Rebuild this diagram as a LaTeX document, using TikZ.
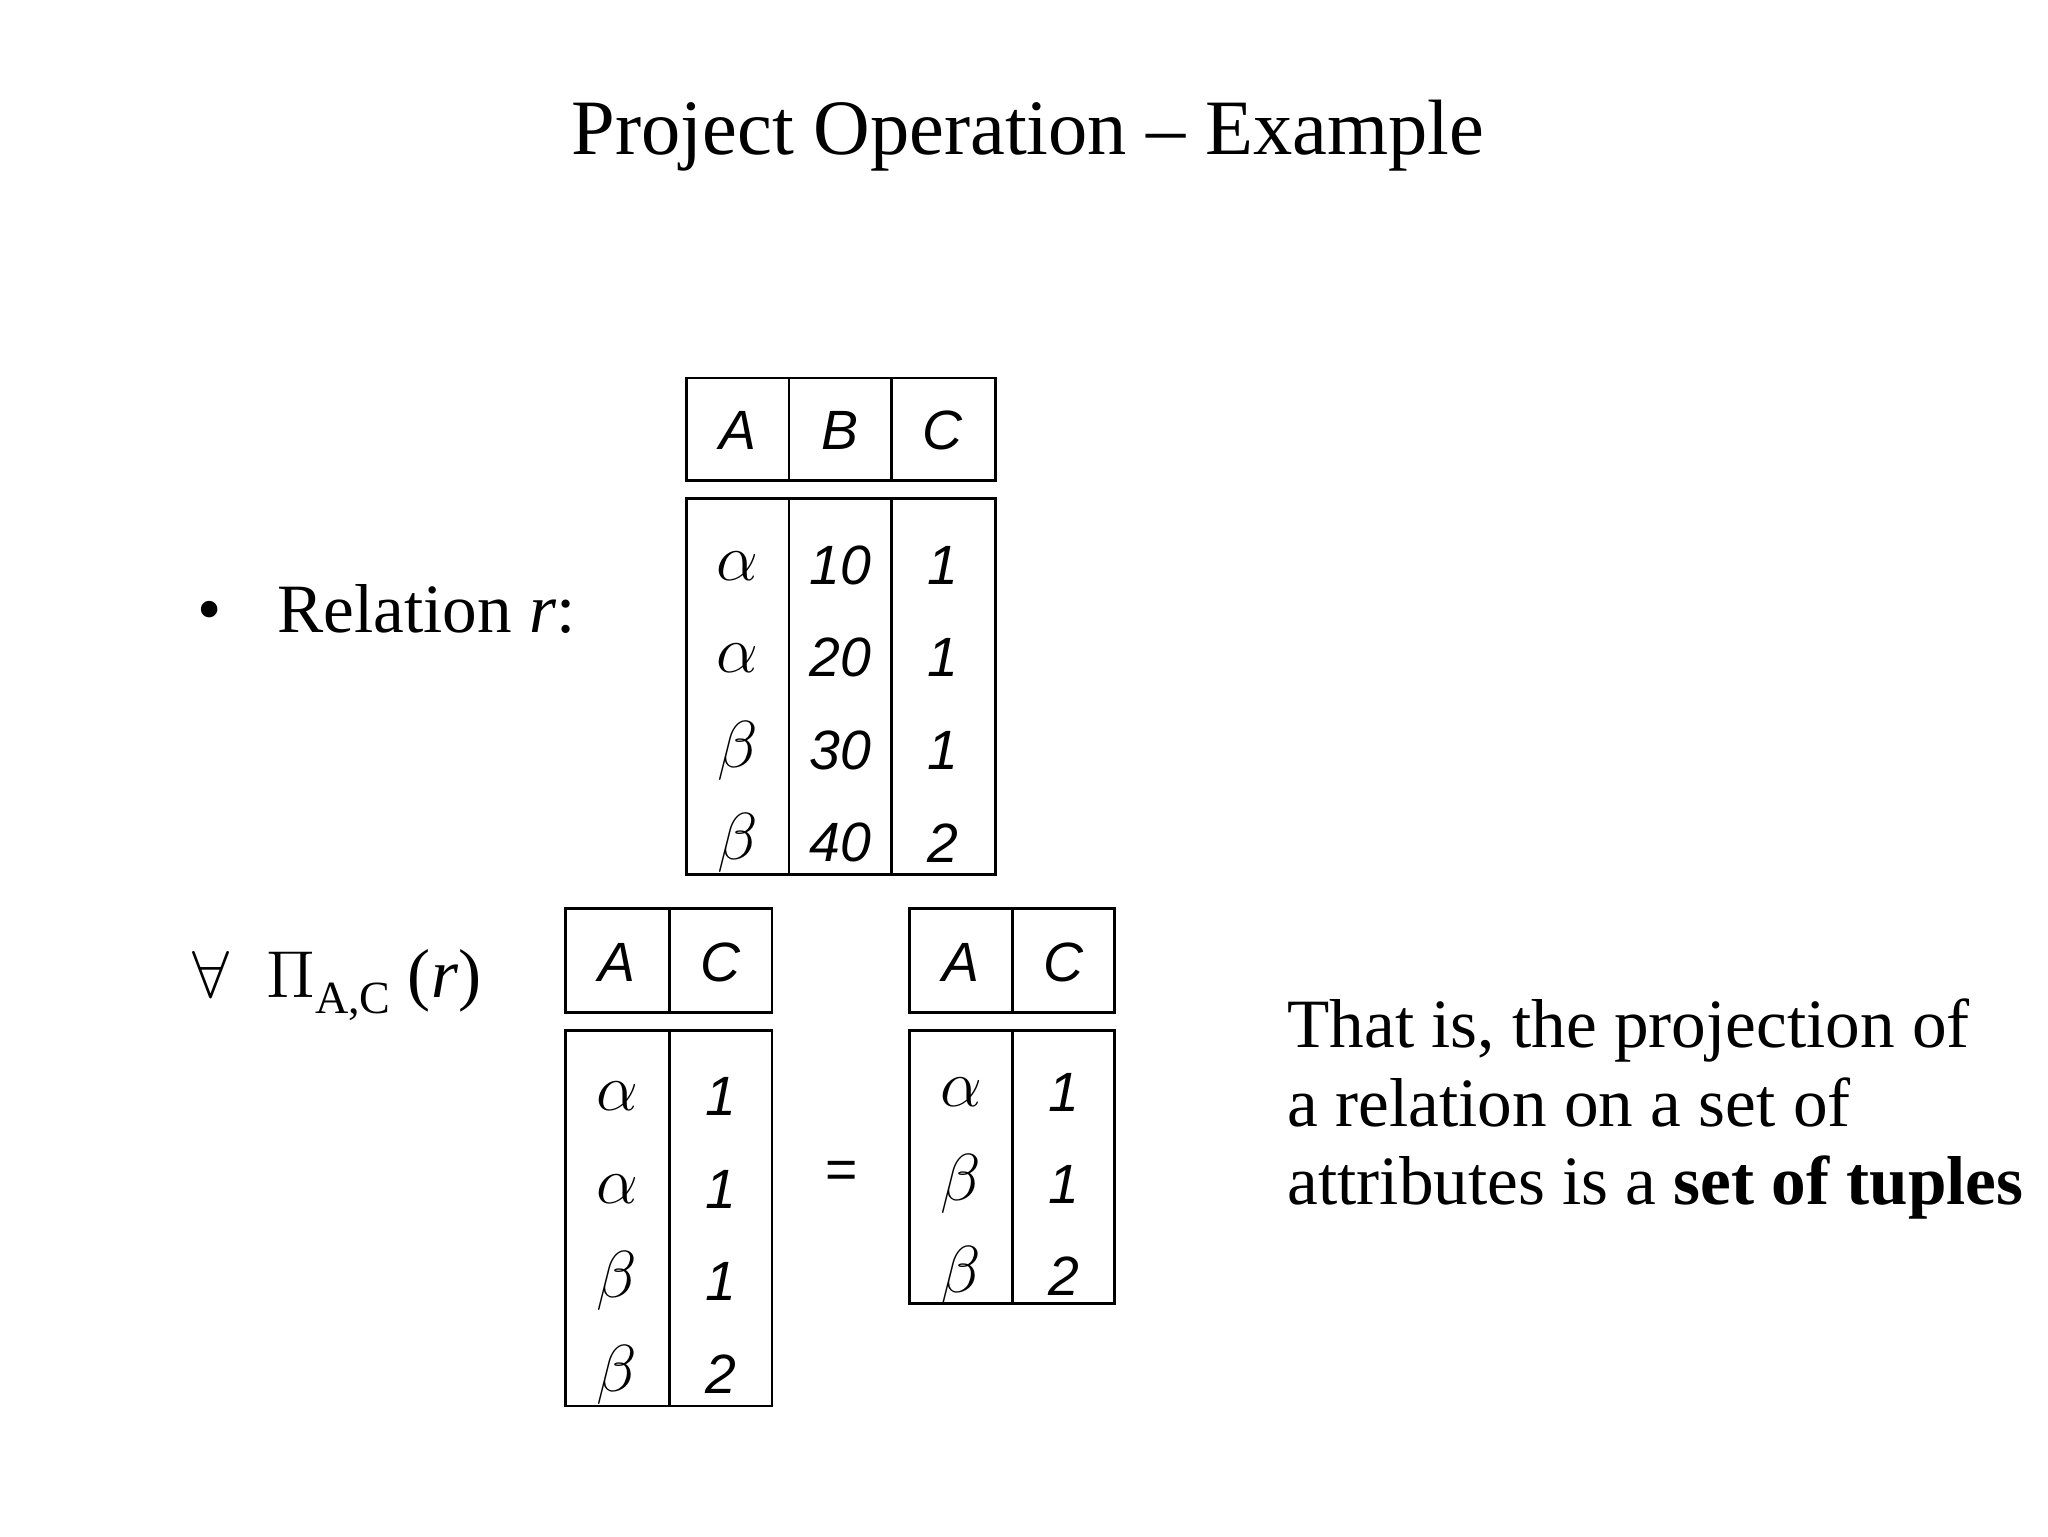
\documentclass[tikz,border=0pt]{standalone}
\usepackage{fontspec}
\setmainfont{Liberation Serif}
\newfontfamily\cellfont{Liberation Sans}
\begin{document}
\begin{tikzpicture}[x=1cm,y=-1cm,
  box/.style={draw,line width=0.6pt},
  cell/.style={font=\cellfont\itshape\fontsize{12}{14}\selectfont,anchor=center},
  gcell/.style={font=\fontsize{13.5}{16}\selectfont,anchor=center},
  big/.style={font=\fontsize{17}{20}\selectfont},
  mid/.style={font=\fontsize{15}{18}\selectfont}]
\useasboundingbox (0,0) rectangle (15.6,11.7);
\node[big] (title) at (7.83,1.03) {Project Operation -- Example};
% Table r
\draw[box] (5.23,2.88) rectangle (7.58,3.66);
\draw[box] (6.01,2.88) -- (6.01,3.66) (6.79,2.88) -- (6.79,3.66);
\draw[box] (5.23,3.80) rectangle (7.58,6.66);
\draw[box] (6.01,3.80) -- (6.01,6.66) (6.79,3.80) -- (6.79,6.66);
\node[cell] (rA) at (5.62,3.28) {A};
\node[cell] (rB) at (6.40,3.28) {B};
\node[cell] (rC) at (7.18,3.28) {C};
\foreach \y/\a/\b/\c [count=\i] in {4.31/\alpha/10/1,5.01/\alpha/20/1,5.72/\beta/30/1,6.42/\beta/40/2}{
  \node[gcell] (ra\i) at (5.62,\y) {$\a$};
  \node[cell] (rb\i) at (6.40,\y) {\b};
  \node[cell] (rc\i) at (7.18,\y) {\c};
}
\node[mid,anchor=base west,inner sep=0pt] (rel) at (1.50,4.82) {\textbullet\hspace{0.42cm}Relation \textit{r}:};
\node[mid,anchor=base west,inner sep=0pt] (proj) at (1.46,7.60) {$\forall$\hspace{0.28cm}$\Pi$\raisebox{-0.5ex}{\fontsize{10}{12}\selectfont A,C} (\textit{r})};
% Table 2
\draw[box] (4.31,6.92) rectangle (5.88,7.71);
\draw[box] (5.10,6.92) -- (5.10,7.71);
\draw[box] (4.31,7.85) rectangle (5.88,10.71);
\draw[box] (5.10,7.85) -- (5.10,10.71);
\node[cell] (sA) at (4.70,7.33) {A};
\node[cell] (sC) at (5.49,7.33) {C};
\foreach \y/\a/\c [count=\i] in {8.35/\alpha/1,9.06/\alpha/1,9.76/\beta/1,10.47/\beta/2}{
  \node[gcell] (sa\i) at (4.70,\y) {$\a$};
  \node[cell] (sc\i) at (5.49,\y) {\c};
}
\node[cell,font=\cellfont\fontsize{12}{14}\selectfont] (eq) at (6.41,8.95) {=};
% Table 3
\draw[box] (6.93,6.92) rectangle (8.49,7.71);
\draw[box] (7.71,6.92) -- (7.71,7.71);
\draw[box] (6.93,7.85) rectangle (8.49,9.93);
\draw[box] (7.71,7.85) -- (7.71,9.93);
\node[cell] (tA) at (7.32,7.33) {A};
\node[cell] (tC) at (8.10,7.33) {C};
\foreach \y/\a/\c [count=\i] in {8.32/\alpha/1,9.02/\beta/1,9.72/\beta/2}{
  \node[gcell] (ta\i) at (7.32,\y) {$\a$};
  \node[cell] (tc\i) at (8.10,\y) {\c};
}
\node[mid,anchor=west,align=left,inner sep=0pt] (note) at (9.80,8.45) {That is, the projection of\\[-1pt] a relation on a set of\\[-1pt] attributes is a \textbf{set of tuples}};
\end{tikzpicture}
\end{document}
